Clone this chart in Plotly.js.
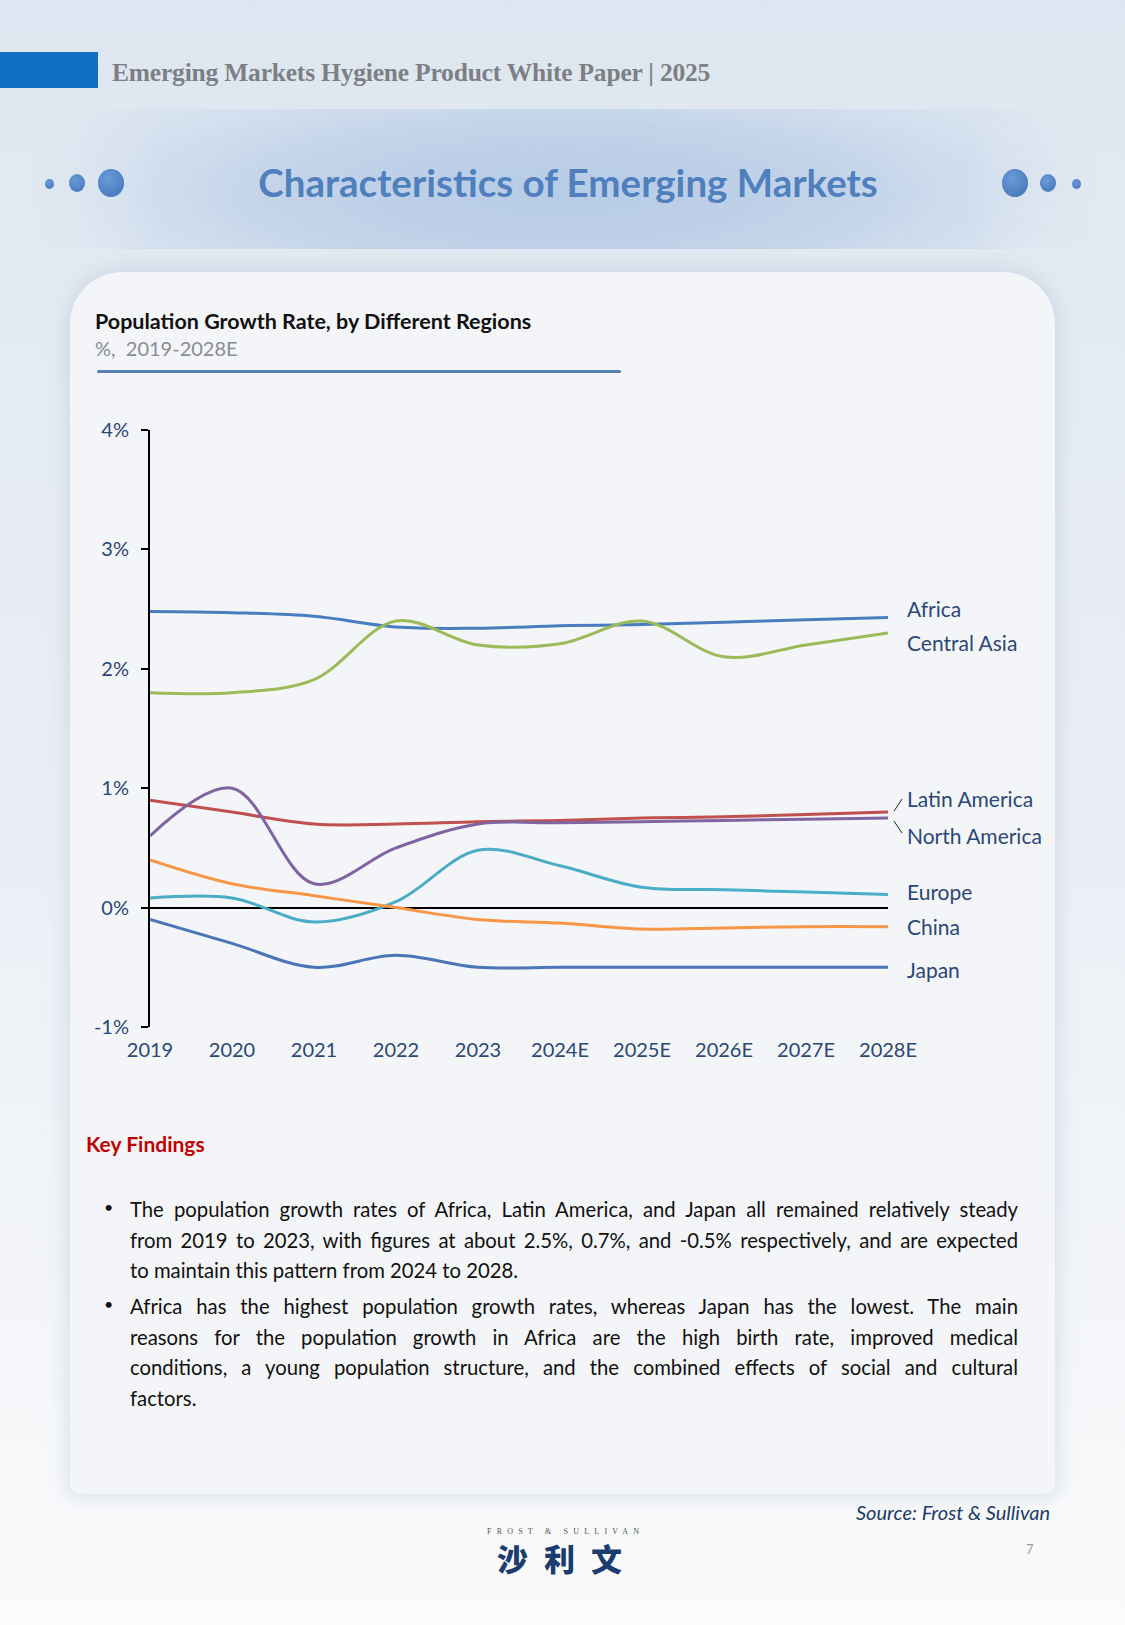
<!DOCTYPE html>
<html>
<head>
<meta charset="utf-8">
<script src="https://cdn.plot.ly/plotly-3.0.1.min.js"></script>
<style>
  html, body { margin:0; padding:0; }
  body { width:1125px; height:1625px; position:relative; overflow:hidden;
    background: linear-gradient(180deg, #dde6f0 0px, #e3eaf2 300px, #eaeef4 800px, #f3f5f8 1300px, #fbfbfc 1625px);
    font-family: Lato, "Open Sans", sans-serif; }
  .abs { position:absolute; }
  #bar { left:0; top:52px; width:98px; height:36px; background:#1170c4; }
  #hdr { left:112px; top:58px; font-family:"Liberation Serif", "DejaVu Serif", serif; font-weight:bold; font-size:25.5px; color:#7d7f84; white-space:nowrap; letter-spacing:-0.2px; }
  #banner { left:30px; top:109px; width:1065px; height:140px;
    background: radial-gradient(ellipse 58% 110% at 50% 60%, #b6cbe5 0%, #c2d3e9 45%, #d3dfee 72%, rgba(221,230,240,0) 100%);
    -webkit-mask-image: linear-gradient(90deg, transparent 0%, #000 12%, #000 88%, transparent 100%);
    mask-image: linear-gradient(90deg, transparent 0%, #000 12%, #000 88%, transparent 100%); }
  #title { left:0; width:1136px; top:159px; text-align:center; font-family:Lato, sans-serif; font-weight:bold; font-size:38.5px; color:#4f7fbd; white-space:nowrap; }
  .dot { position:absolute; border-radius:50%; background: radial-gradient(circle at 40% 35%, #6b9ad6, #3f72b8); }
  #card { left:70px; top:272px; width:985px; height:1222px; background:#f3f5f8; border-radius:52px 52px 10px 10px;
    box-shadow: 0 0 18px 4px rgba(170,185,205,0.35); }
  #ctitle { left:95px; top:308px; font-family:Lato, sans-serif; font-weight:bold; font-size:21.5px; color:#111; white-space:nowrap; }
  #csub { left:95px; top:336px; font-family:Lato, sans-serif; font-size:20px; color:#8a8c90; white-space:pre; }
  #uline { left:97px; top:370px; width:524px; height:3px; background:#5580b0; border-radius:2px; }
  #chart { left:0; top:400px; width:1125px; height:700px; }
  #kf { left:86px; top:1131px; font-family:Lato, sans-serif; font-weight:bold; font-size:21px; color:#c00000; }
  .para { position:absolute; left:130px; width:888px; font-family:Lato, sans-serif; font-size:20.3px; color:#111; line-height:30.5px; }
  .para span { display:block; text-align:justify; text-align-last:justify; white-space:nowrap; }
  .para span.last { text-align-last:left; }
  .bul { position:absolute; left:104px; font-size:16px; color:#111; }
  #src { right:75px; top:1500px; font-family:Lato, sans-serif; font-style:italic; font-size:20px; color:#1f3a66; }
  #fs { left:487px; top:1527px; font-family:"Liberation Serif", serif; font-size:8px; letter-spacing:5.2px; color:#555; white-space:nowrap; }
  #cn { left:497px; top:1535px; font-family:"Noto Sans CJK SC", sans-serif; font-weight:900; font-size:31px; letter-spacing:16px; color:#1b3c6e; white-space:nowrap; }
  #pg { left:1026px; top:1541px; font-size:13px; color:#9a9a9a; }
</style>
</head>
<body>
<div id="bar" class="abs"></div>
<div id="hdr" class="abs">Emerging Markets Hygiene Product White Paper | 2025</div>
<div id="banner" class="abs"></div>
<div id="title" class="abs">Characteristics of Emerging Markets</div>
<div class="dot" style="left:45px;top:179px;width:9px;height:10px;"></div>
<div class="dot" style="left:69px;top:174px;width:16px;height:18px;"></div>
<div class="dot" style="left:98px;top:169px;width:26px;height:28px;"></div>
<div class="dot" style="left:1002px;top:169px;width:26px;height:28px;"></div>
<div class="dot" style="left:1040px;top:174px;width:16px;height:18px;"></div>
<div class="dot" style="left:1072px;top:179px;width:9px;height:10px;"></div>
<div id="card" class="abs"></div>
<div id="ctitle" class="abs">Population Growth Rate, by Different Regions</div>
<div id="csub" class="abs">%,  2019-2028E</div>
<div id="uline" class="abs"></div>
<div id="chart" class="abs"></div>
<div id="kf" class="abs">Key Findings</div>
<div class="bul" style="top:1197px;">•</div>
<div class="para" style="top:1194px;">
  <span>The population growth rates of Africa, Latin America, and Japan all remained relatively steady</span>
  <span>from 2019 to 2023, with figures at about 2.5%, 0.7%, and -0.5% respectively, and are expected</span>
  <span class="last">to maintain this pattern from 2024 to 2028.</span>
</div>
<div class="bul" style="top:1294px;">•</div>
<div class="para" style="top:1291px;">
  <span>Africa has the highest population growth rates, whereas Japan has the lowest. The main</span>
  <span>reasons for the population growth in Africa are the high birth rate, improved medical</span>
  <span>conditions, a young population structure, and the combined effects of social and cultural</span>
  <span class="last">factors.</span>
</div>
<div id="src" class="abs">Source: Frost &amp; Sullivan</div>
<div id="fs" class="abs">FROST &amp; SULLIVAN</div>
<div id="cn" class="abs">沙利文</div>
<div id="pg" class="abs">7</div>

<script>
// ---- data ----
const years = ["2019","2020","2021","2022","2023","2024E","2025E","2026E","2027E","2028E"];
const africa        = [2.48, 2.47, 2.44, 2.35, 2.34, 2.36, 2.37, 2.39, 2.41, 2.43];
const centralAsia   = [1.80, 1.80, 1.91, 2.40, 2.20, 2.21, 2.40, 2.10, 2.20, 2.30];
const latinAmerica  = [0.90, 0.80, 0.70, 0.70, 0.72, 0.73, 0.75, 0.76, 0.78, 0.80];
const northAmerica  = [0.60, 1.00, 0.20, 0.50, 0.70, 0.71, 0.72, 0.73, 0.74, 0.75];
const europe        = [0.08, 0.08, -0.12, 0.05, 0.48, 0.35, 0.17, 0.15, 0.13, 0.11];
const china         = [0.40, 0.20, 0.10, 0.00, -0.10, -0.13, -0.18, -0.17, -0.16, -0.16];
const japan         = [-0.10, -0.30, -0.50, -0.40, -0.50, -0.50, -0.50, -0.50, -0.50, -0.50];
const yTickVals   = [-1, 0, 1, 2, 3, 4];
const yTickLabels = ["-1%", "0%", "1%", "2%", "3%", "4%"];

const seriesNames = ["Africa","Central Asia","Latin America","North America","Europe","China","Japan"];
const seriesData  = [africa, centralAsia, latinAmerica, northAmerica, europe, china, japan];

// ---- styles ----
const colors = {"Africa":"#4a7dbf","Central Asia":"#9bbb59","Latin America":"#c0504d","North America":"#8064a2",
                "Europe":"#4bacc6","China":"#f79646","Japan":"#4a76b8"};
const labelShift = {"Africa":9,"Central Asia":-10,"Latin America":14,"North America":-17,"Europe":3,"China":0,"Japan":-2};
const navy = "#2c4775";
const FONT = "Lato, 'Open Sans', sans-serif";

const traces = seriesNames.map((n, i) => ({
  type:"scatter", mode:"lines", name:n, x:years, y:seriesData[i],
  line:{color:colors[n], width:3, shape:"spline", smoothing:1},
  hoverinfo:"skip", showlegend:false
}));

const annotations = seriesNames.map((n, i) => ({
  x: years[years.length-1], y: seriesData[i][seriesData[i].length-1], xref:"x", yref:"y",
  text:n, showarrow:false, xanchor:"left", yanchor:"middle", xshift:17, yshift:labelShift[n],
  font:{family:FONT, size:21, color:navy}
}));

// leader lines (paper x beyond plot, data y) for the two close labels
const plotW = 738, pxPerUnit = 119.4;
const shapes = [];
[["Latin America", 1, 13], ["North America", -3, -15]].forEach(([n, s0, s1]) => {
  const last = seriesData[seriesNames.indexOf(n)][years.length-1];
  shapes.push({type:"line", xref:"paper", yref:"y", x0:1+6/plotW, x1:1+14/plotW,
    y0:last + s0/pxPerUnit, y1:last + s1/pxPerUnit, line:{color:"#222", width:1}});
});

const layout = {
  width:1125, height:700,
  margin:{l:150, r:237, t:30, b:73},
  paper_bgcolor:"rgba(0,0,0,0)", plot_bgcolor:"rgba(0,0,0,0)",
  xaxis:{type:"category", range:[0, 9], showgrid:false, zeroline:false, showline:false, ticks:"",
         ticklabelstandoff:9, tickfont:{family:FONT, size:20, color:navy}, fixedrange:true},
  yaxis:{range:[-1, 4], tickvals:yTickVals, ticktext:yTickLabels, showgrid:false,
         zeroline:true, zerolinecolor:"#000", zerolinewidth:2,
         showline:true, linecolor:"#000", linewidth:2, ticks:"outside", ticklen:7, tickwidth:2, tickcolor:"#000",
         ticklabelstandoff:8, tickfont:{family:FONT, size:20, color:navy}, fixedrange:true},
  annotations:annotations, shapes:shapes
};

Plotly.newPlot("chart", traces, layout, {staticPlot:true, displayModeBar:false});
</script>
</body>
</html>
